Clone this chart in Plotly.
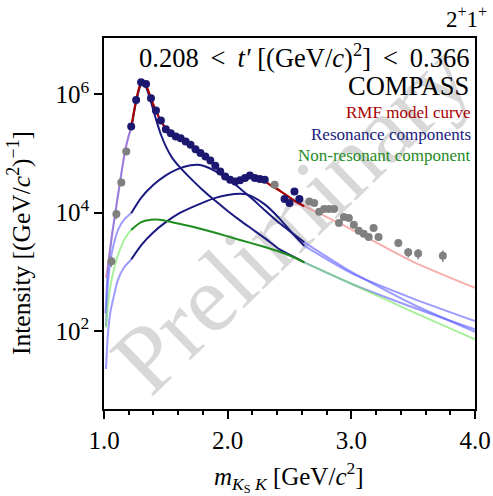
import plotly.graph_objects as go

# ---------------- data (log10 of intensity) ----------------
fit_mass = [1.22, 1.26, 1.30, 1.34, 1.38, 1.42, 1.46, 1.50, 1.54, 1.58, 1.62, 1.66, 1.70,
            1.74, 1.78, 1.82, 1.86, 1.90, 1.94, 1.98, 2.02, 2.06, 2.10, 2.14, 2.18, 2.22,
            2.26, 2.30, 2.46, 2.50, 2.54, 2.58]
fit_log = [5.454, 5.904, 6.202, 6.174, 5.933, 5.724, 5.555, 5.410, 5.343, 5.286, 5.259,
           5.201, 5.146, 5.073, 5.006, 4.949, 4.881, 4.792, 4.696, 4.612, 4.556, 4.527,
           4.548, 4.585, 4.628, 4.585, 4.568, 4.556, 4.231, 4.163, 4.359, 4.231]

out_mass = [1.06, 1.10, 1.14, 1.18, 2.38, 2.66, 2.70, 2.74, 2.78, 2.82, 2.86, 2.90, 2.94,
            2.98, 3.02, 3.06, 3.10, 3.14, 3.18, 3.22, 3.38, 3.46, 3.54, 3.74]
out_log = [3.179, 3.978, 4.511, 5.033, 4.472, 4.190, 4.163, 4.017, 4.062, 4.062, 4.062,
           3.826, 3.928, 3.911, 3.798, 3.697, 3.646, 3.591, 3.742, 3.591, 3.489, 3.331,
           3.309, 3.275]
out_relerr = [0.20, 0.18, 0.10, 0.08, 0.06, 0.08, 0.08, 0.08, 0.08, 0.08, 0.08, 0.10, 0.10,
              0.10, 0.10, 0.10, 0.10, 0.10, 0.10, 0.12, 0.15, 0.18, 0.20, 0.22]

# model curve (inside fit range) and its extrapolations
rmf_m = [1.22, 1.24, 1.26, 1.28, 1.30, 1.32, 1.34, 1.36, 1.38, 1.40, 1.42, 1.44, 1.46, 1.50,
         1.55, 1.60, 1.65, 1.70, 1.75, 1.80, 1.85, 1.90, 1.95, 2.00, 2.05, 2.10, 2.15, 2.20,
         2.25, 2.30, 2.35, 2.40, 2.45, 2.50, 2.55, 2.62]
rmf_l = [5.44, 5.68, 5.90, 6.08, 6.19, 6.20, 6.15, 6.05, 5.93, 5.82, 5.72, 5.63, 5.55, 5.42,
         5.33, 5.26, 5.20, 5.14, 5.07, 4.99, 4.89, 4.79, 4.68, 4.59, 4.54, 4.55, 4.58, 4.59,
         4.57, 4.53, 4.46, 4.40, 4.33, 4.26, 4.19, 4.11]
rmf_lo_m = [1.016, 1.036, 1.06, 1.09, 1.13, 1.17, 1.20, 1.22]
rmf_lo_l = [2.90, 3.18, 3.55, 3.97, 4.52, 5.03, 5.30, 5.44]
rmf_hi_m = [2.62, 3.00, 3.50, 4.00]
rmf_hi_l = [4.11, 3.72, 3.17, 2.73]

resA_m = [1.22, 1.26, 1.30, 1.32, 1.34, 1.38, 1.42, 1.46, 1.50, 1.55, 1.60, 1.70, 1.80, 1.90,
          2.00, 2.10, 2.20, 2.30, 2.42, 2.52, 2.62]
resA_l = [5.42, 5.88, 6.17, 6.18, 6.12, 5.87, 5.58, 5.32, 5.12, 4.93, 4.80, 4.58, 4.38, 4.20,
          4.03, 3.87, 3.72, 3.57, 3.38, 3.27, 3.16]
resA_lo_m = [1.012, 1.03, 1.06, 1.09, 1.13, 1.17, 1.20, 1.22]
resA_lo_l = [2.30, 3.00, 3.55, 3.98, 4.53, 5.04, 5.30, 5.42]
resA_hi_m = [2.62, 3.00, 3.50, 4.00]
resA_hi_l = [3.16, 2.80, 2.40, 2.03]

resB_m = [1.22, 1.30, 1.40, 1.50, 1.60, 1.70, 1.76, 1.82, 1.90, 2.00, 2.10, 2.20, 2.30, 2.42,
          2.52, 2.62]
resB_l = [3.99, 4.25, 4.47, 4.63, 4.74, 4.80, 4.81, 4.78, 4.70, 4.57, 4.41, 4.23, 4.04, 3.82,
          3.66, 3.50]
resB_lo_m = [1.016, 1.03, 1.05, 1.08, 1.12, 1.17, 1.22]
resB_lo_l = [2.08, 2.75, 3.15, 3.48, 3.74, 3.90, 3.99]
resB_hi_m = [2.62, 3.00, 3.50, 4.00]
resB_hi_l = [3.50, 3.00, 2.45, 1.99]

resC_m = [1.22, 1.30, 1.40, 1.50, 1.60, 1.70, 1.80, 1.90, 2.00, 2.10, 2.15, 2.20, 2.30, 2.42,
          2.52, 2.62]
resC_l = [3.21, 3.45, 3.67, 3.84, 3.98, 4.08, 4.17, 4.25, 4.30, 4.32, 4.31, 4.27, 4.14, 3.90,
          3.66, 3.44]
resC_lo_m = [1.016, 1.03, 1.05, 1.075, 1.11, 1.16, 1.22]
resC_lo_l = [1.36, 1.90, 2.30, 2.55, 2.85, 3.07, 3.21]
resC_hi_m = [2.62, 3.00, 3.50, 4.00]
resC_hi_l = [3.44, 2.98, 2.55, 2.17]

nonres_m = [1.22, 1.30, 1.38, 1.45, 1.55, 1.70, 1.90, 2.10, 2.30, 2.42, 2.52, 2.62]
nonres_l = [3.71, 3.84, 3.88, 3.88, 3.84, 3.77, 3.66, 3.54, 3.42, 3.34, 3.26, 3.16]
nonres_lo_m = [1.016, 1.04, 1.06, 1.10, 1.13, 1.17, 1.22]
nonres_lo_l = [2.06, 2.60, 2.85, 3.20, 3.38, 3.57, 3.71]
nonres_hi_m = [2.62, 3.00, 3.50, 4.00]
nonres_hi_l = [3.16, 2.80, 2.32, 1.86]

x_ticks = [1.0, 2.0, 3.0, 4.0]
y_tickvals = [1e2, 1e4, 1e6]
y_ticktext = ["10<sup>2</sup>", "10<sup>4</sup>", "10<sup>6</sup>"]

# ---------------- styling ----------------
FONT = "Liberation Serif"
DARKRED = "#a80000"
NAVY = "#1a1a80"
GREEN = "#1e8c1e"
PINK = "rgba(240,120,120,0.6)"
LBLUE = "rgba(90,90,255,0.6)"
LGREEN = "rgba(110,230,90,0.6)"
PTBLUE = "#1c1870"
GREY = "#808080"


def lin(vals):
    return [10 ** v for v in vals]


fig = go.Figure()


def curve(m, l, color, width):
    fig.add_trace(go.Scatter(x=m, y=lin(l), mode="lines", line=dict(color=color, width=width,
                             shape="spline", smoothing=0.6), hoverinfo="skip", showlegend=False))


# extrapolations (light)
for m, l in [(rmf_lo_m, rmf_lo_l), (rmf_hi_m, rmf_hi_l)]:
    curve(m, l, PINK, 2)
for m, l in [(resA_lo_m, resA_lo_l), (resA_hi_m, resA_hi_l), (resB_lo_m, resB_lo_l),
             (resB_hi_m, resB_hi_l), (resC_lo_m, resC_lo_l), (resC_hi_m, resC_hi_l)]:
    curve(m, l, LBLUE, 2)
for m, l in [(nonres_lo_m, nonres_lo_l), (nonres_hi_m, nonres_hi_l)]:
    curve(m, l, LGREEN, 2)

# fit-range curves
curve(resA_m, resA_l, NAVY, 2)
curve(resB_m, resB_l, NAVY, 2)
curve(resC_m, resC_l, NAVY, 2)
curve(nonres_m, nonres_l, GREEN, 2)
curve(rmf_m, rmf_l, DARKRED, 2.2)

# data points
out_y = lin(out_log)
fig.add_trace(go.Scatter(x=out_mass, y=out_y, mode="markers",
                         marker=dict(color=GREY, size=8),
                         error_y=dict(type="data", array=[y * e for y, e in zip(out_y, out_relerr)],
                                      color=GREY, thickness=1.5, width=0),
                         showlegend=False))
fig.add_trace(go.Scatter(x=fit_mass, y=lin(fit_log), mode="markers",
                         marker=dict(color=PTBLUE, size=8), showlegend=False))

# ---------------- layout ----------------
L, R, T, B = 104, 18, 38, 87
W, H = 493, 496
pw, ph = W - L - R, H - T - B


def px(x):
    return (x - L) / pw


def py(y):
    return (H - B - y) / ph


TS = "\u2009"
ann = []
ann.append(dict(text=f"0.208{TS} &lt;{TS} <i>t′</i> [(GeV/<i>c</i>)<sup>2</sup>]{TS} &lt;{TS} 0.366",
                x=px(471), y=py(56), xanchor="right", yanchor="middle",
                font=dict(size=26.5, color="black", family=FONT)))
ann.append(dict(text="COMPASS", x=px(471), y=py(86), xanchor="right", yanchor="middle",
                font=dict(size=26.5, color="black", family=FONT)))
ann.append(dict(text="RMF model curve", x=px(473), y=py(113), xanchor="right", yanchor="middle",
                font=dict(size=17, color=DARKRED, family=FONT)))
ann.append(dict(text="Resonance components", x=px(473), y=py(134), xanchor="right",
                yanchor="middle", font=dict(size=17, color=NAVY, family=FONT)))
ann.append(dict(text="Non-resonant component", x=px(473), y=py(155), xanchor="right",
                yanchor="middle", font=dict(size=17, color=GREEN, family=FONT)))
ann.append(dict(text="2<sup>+</sup>1<sup>+</sup>", x=px(489), y=py(17), xanchor="right",
                yanchor="middle", font=dict(size=23, color="black", family=FONT)))
ann.append(dict(text="Intensity [(GeV/<i>c</i><sup>2</sup>)<sup>−1</sup>]", x=px(19), y=py(243),
                xanchor="center", yanchor="middle", textangle=-90,
                font=dict(size=25.5, color="black", family=FONT)))
ann.append(dict(text="<i>m</i><sub><i>K</i><sub>S</sub> <i>K</i></sub> [GeV/<i>c</i><sup>2</sup>]",
                x=px(289), y=py(477), xanchor="center", yanchor="middle",
                font=dict(size=25, color="black", family=FONT)))
for a in ann:
    a.update(xref="paper", yref="paper", showarrow=False)

fig.update_layout(
    width=W, height=H, margin=dict(l=L, r=R, t=T, b=B, autoexpand=False),
    paper_bgcolor="white", plot_bgcolor="white",
    font=dict(family=FONT, size=25, color="black"),
    annotations=ann,
    shapes=[dict(type="rect", xref="x domain", yref="y domain", x0=-0.015, x1=0.985,
                 y0=0.035, y1=1.035,
                 line=dict(width=0), fillcolor="rgba(0,0,0,0)", layer="below",
                 label=dict(text="Preliminary", textangle=-44, textposition="middle center",
                            font=dict(size=96, color="#d8d8d8", family=FONT)))],
    showlegend=False,
)
fig.update_xaxes(range=[1.0, 4.0], tickmode="array", tickvals=x_ticks,
                 ticktext=[f"{v:.1f}" for v in x_ticks], automargin=False,
                 ticks="outside", ticklen=8, tickwidth=1.5, tickcolor="black",
                 minor=dict(tickmode="linear", tick0=1.0, dtick=0.2, ticks="outside", ticklen=4,
                            tickwidth=1.5, tickcolor="black"),
                 showline=True, mirror=True, linecolor="black", linewidth=1.5,
                 showgrid=False, zeroline=False, tickfont=dict(size=25, family=FONT))
fig.update_yaxes(type="log", range=[0.685, 6.95], tickmode="array", tickvals=y_tickvals,
                 ticktext=y_ticktext, ticks="outside", ticklen=8, tickwidth=1.5, automargin=False,
                 tickcolor="black", showline=True, mirror=True, linecolor="black", linewidth=1.5,
                 showgrid=False, zeroline=False, tickfont=dict(size=25, family=FONT))

fig.write_html("out.html")
